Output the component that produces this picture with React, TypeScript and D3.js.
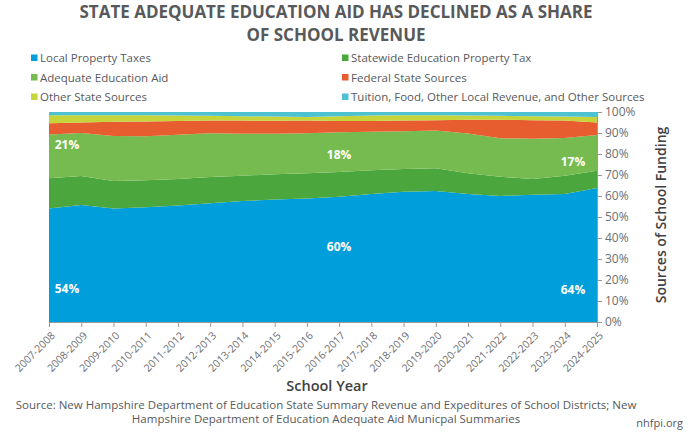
import { useEffect, useRef } from "react";
import {
    area,
    axisBottom,
    axisRight,
    format,
    ScaleLinear,
    scaleLinear,
    ScalePoint,
    scalePoint,
    select,
    stack
} from "d3";

// shares of school revenue, percent
const years = [
    "2007-2008", "2008-2009", "2009-2010", "2010-2011", "2011-2012", "2012-2013",
    "2013-2014", "2014-2015", "2015-2016", "2016-2017", "2017-2018", "2018-2019",
    "2019-2020", "2020-2021", "2021-2022", "2022-2023", "2023-2024", "2024-2025"
];
const localProperty = [54.0, 55.7, 54.1, 54.6, 55.5, 56.6, 57.6, 58.3, 58.8, 59.6, 61.0, 62.0, 62.4, 61.0, 60.0, 60.6, 61.0, 63.8];
const statewideTax = [14.4, 13.8, 13.0, 12.9, 12.6, 12.4, 12.1, 12.0, 12.0, 11.8, 11.3, 10.8, 10.8, 9.8, 9.2, 7.5, 8.7, 8.2];
const adequateAid = [20.9, 20.5, 21.5, 21.0, 21.1, 20.9, 20.0, 19.3, 19.1, 18.9, 18.3, 18.0, 18.0, 19.0, 18.3, 19.2, 17.9, 17.0];
const federal = [5.3, 5.0, 6.7, 7.0, 6.5, 6.0, 6.2, 6.2, 6.0, 5.4, 5.1, 5.1, 4.9, 6.5, 8.8, 8.8, 8.4, 6.0];
const otherState = [3.8, 3.5, 3.2, 2.9, 2.6, 2.3, 2.1, 2.0, 1.7, 2.3, 2.6, 2.5, 2.3, 2.0, 1.9, 1.9, 1.9, 2.6];
const tuitionOther = [1.6, 1.5, 1.5, 1.6, 1.7, 1.8, 2.0, 2.2, 2.4, 2.0, 1.7, 1.6, 1.6, 1.7, 1.8, 2.0, 2.1, 2.4];

const seriesNames = [
    "Local Property Taxes",
    "Statewide Education Property Tax",
    "Adequate Education Aid",
    "Federal State Sources",
    "Other State Sources",
    "Tuition, Food, Other Local Revenue, and Other Sources"
];
const seriesValues = [localProperty, statewideTax, adequateAid, federal, otherState, tuitionOther];
const colors = ["#009fdb", "#4ba73d", "#76bb4f", "#e85d2f", "#c4d43a", "#4ec2d1"];

const yTicks = [0, 10, 20, 30, 40, 50, 60, 70, 80, 90, 100];

// [year index, height in percent, text]
const callouts: [number, number, string][] = [
    [0, 16, "54%"],
    [0, 84.5, "21%"],
    [9, 36, "60%"],
    [9, 79.5, "18%"],
    [17, 15.5, "64%"],
    [17, 76.5, "17%"]
];

const FONT = "'Open Sans', sans-serif";

const margin = { top: 112, left: 49 };
const plotW = 548;
const plotH = 210;

const AxisBottom = ({ scale }: { scale: ScalePoint<string> }) => {
    const ref = useRef<SVGGElement>(null);
    useEffect(() => {
        if (ref.current) {
            const g = select(ref.current);
            g.call(axisBottom(scale).tickSize(5).tickSizeOuter(0));
            g.select(".domain").attr("stroke", "#9a9a9a");
            g.selectAll(".tick line").attr("stroke", "#9a9a9a");
            g.selectAll(".tick text")
                .attr("fill", "#6d6e71")
                .attr("font-family", FONT)
                .attr("font-size", 10.5)
                .attr("text-anchor", "end")
                .attr("dy", "0.35em")
                .attr("transform", "translate(-2,6) rotate(-45)");
        }
    }, [scale]);
    return <g ref={ref} transform={`translate(0, ${plotH})`} />;
};

const AxisRight = ({ scale }: { scale: ScaleLinear<number, number> }) => {
    const ref = useRef<SVGGElement>(null);
    useEffect(() => {
        if (ref.current) {
            const g = select(ref.current);
            g.call(
                axisRight(scale)
                    .tickValues(yTicks)
                    .tickSize(5)
                    .tickSizeOuter(0)
                    .tickFormat((d) => format("d")(d as number) + "%")
            );
            g.select(".domain").attr("stroke", "#9a9a9a");
            g.selectAll(".tick line").attr("stroke", "#9a9a9a");
            g.selectAll(".tick text")
                .attr("fill", "#6d6e71")
                .attr("font-family", FONT)
                .attr("font-size", 12)
                .attr("x", 8);
        }
    }, [scale]);
    return <g ref={ref} transform={`translate(${plotW}, 0)`} />;
};

export default function App() {
    useEffect(() => {
        document.body.style.margin = "0";
    }, []);

    const rows = years.map((year, i) => {
        const row: Record<string, number | string> = { year };
        seriesNames.forEach((name, s) => (row[name] = seriesValues[s][i]));
        return row;
    });
    const stacked = stack<Record<string, number | string>>().keys(seriesNames)(rows);

    const scaleX = scalePoint<string>().domain(years).range([0, plotW]);
    const scaleY = scaleLinear().domain([0, 100]).range([plotH, 0]);

    const shape = area<any>()
        .x((d) => scaleX(d.data.year as string) as number)
        .y0((d) => scaleY(d[0]))
        .y1((d) => scaleY(Math.min(100, d[1])));

    return (
        <svg width={689} height={435} style={{ display: "block" }} fontFamily={FONT}>
            <text x={336} y={18} textAnchor="middle" fontSize={17} fontWeight={700} fill="#58595b">
                STATE ADEQUATE EDUCATION AID HAS DECLINED AS A SHARE
            </text>
            <text x={336} y={41} textAnchor="middle" fontSize={17} fontWeight={700} fill="#58595b">
                OF SCHOOL REVENUE
            </text>

            {seriesNames.map((name, i) => {
                const col = i % 2;
                const row = Math.floor(i / 2);
                const x = col === 0 ? 31 : 342;
                const y = 58 + row * 19.5;
                return (
                    <g key={`legend-${name}`} transform={`translate(${x}, ${y})`}>
                        <rect x={0} y={-3.5} width={6.5} height={6.5} fill={colors[i]} />
                        <text x={9} y={0} dy="0.35em" fontSize={11.5} fill="#58595b">
                            {name}
                        </text>
                    </g>
                );
            })}

            <g transform={`translate(${margin.left}, ${margin.top})`}>
                {stacked.map((layer, i) => (
                    <path key={`area-${layer.key}`} d={shape(layer) ?? ""} fill={colors[i]} />
                ))}
                {callouts.map(([idx, pct, label]) => (
                    <text
                        key={`callout-${idx}-${label}`}
                        x={(scaleX(years[idx]) as number) + (idx === 0 ? 18 : idx === years.length - 1 ? -24 : 0)}
                        y={scaleY(pct)}
                        dy="0.35em"
                        textAnchor="middle"
                        fontSize={12}
                        fontWeight={700}
                        fill="#ffffff"
                    >
                        {label}
                    </text>
                ))}
                <AxisBottom scale={scaleX} />
                <AxisRight scale={scaleY} />
            </g>

            <text
                transform="translate(661, 215) rotate(-90)"
                textAnchor="middle"
                dy="0.35em"
                fontSize={14}
                fontWeight={600}
                fill="#414042"
            >
                Sources of School Funding
            </text>
            <text x={327} y={391} textAnchor="middle" fontSize={14.5} fontWeight={600} fill="#414042">
                School Year
            </text>
            <text x={326} y={409} textAnchor="middle" fontSize={11.5} fill="#58595b">
                Source: New Hampshire Department of Education State Summary Revenue and Expeditures of School Districts; New
            </text>
            <text x={326} y={423} textAnchor="middle" fontSize={11.5} fill="#58595b">
                Hampshire Department of Education Adequate Aid Municpal Summaries
            </text>
            <text x={683} y={427} textAnchor="end" fontSize={11} fill="#58595b">
                nhfpi.org
            </text>
        </svg>
    );
}
